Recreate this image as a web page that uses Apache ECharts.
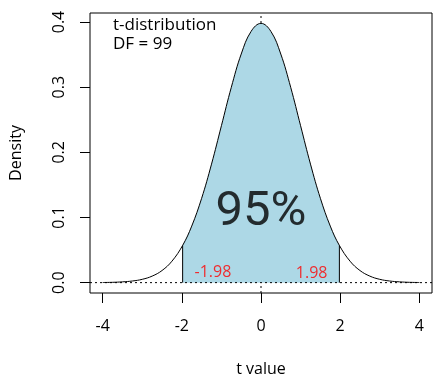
<!DOCTYPE html>
<html>
<head>
<meta charset="utf-8">
<script src="https://cdn.jsdelivr.net/npm/echarts@6/dist/echarts.min.js"></script>
<style>
  html, body { margin: 0; padding: 0; background: #fff; }
  #main { width: 433px; height: 374px; }
</style>
</head>
<body>
<div id="main"></div>
<script type="text/javascript">
// values (t distribution, df = 99)
var tValues = [-4, -3.75, -3.5, -3.25, -3, -2.75, -2.5, -2.25, -1.98, -1.75, -1.5, -1.25, -1, -0.75, -0.5, -0.25,
	0, 0.25, 0.5, 0.75, 1, 1.25, 1.5, 1.75, 1.98, 2.25, 2.5, 2.75, 3, 3.25, 3.5, 3.75, 4];
var density = [0.0002, 0.0005, 0.0012, 0.0025, 0.0051, 0.0100, 0.0186, 0.0329, 0.0571, 0.0868, 0.1294, 0.1819, 0.2408, 0.2998, 0.3508, 0.3856,
	0.3979, 0.3856, 0.3508, 0.2998, 0.2408, 0.1819, 0.1294, 0.0868, 0.0571, 0.0329, 0.0186, 0.0100, 0.0051, 0.0025, 0.0012, 0.0005, 0.0002];
var critical = [-1.98, 1.98];
var xTicks = [-4, -2, 0, 2, 4];
var yTicks = [0, 0.1, 0.2, 0.3, 0.4];
var xRange = [-4.32, 4.32];
var yRange = [-0.0159, 0.4138];

var font = 'Open Sans';
var curve = tValues.map(function(x, i){ return [x, density[i]]; });
var shade = curve.filter(function(p){ return p[0] >= critical[0] && p[0] <= critical[1]; });

var series = [
	{
		type: 'line', z: 1, silent: true, symbol: 'none',
		data: [[0, yRange[0]], [0, yRange[1]]],
		lineStyle: { color: '#000', width: 1, type: [2, 3] }
	},
	{
		type: 'line', z: 2, silent: true, symbol: 'none', smooth: 0.4,
		data: shade,
		lineStyle: { width: 0 },
		areaStyle: { color: '#ADD8E6', opacity: 1 }
	},
	{
		type: 'line', z: 3, silent: true, symbol: 'none',
		data: [[xRange[0], 0], [xRange[1], 0]],
		lineStyle: { color: '#000', width: 1, type: [2, 3] }
	},
	{
		type: 'line', z: 4, silent: true, symbol: 'none', smooth: 0.4,
		data: curve,
		lineStyle: { color: '#000', width: 1 }
	}
];
critical.forEach(function(c){
	var h = density[tValues.indexOf(c)];
	series.push({
		type: 'line', z: 4, silent: true, symbol: 'none',
		data: [[c, 0], [c, h]],
		lineStyle: { color: '#000', width: 1 }
	});
});
// text notes
series.push({
	type: 'scatter', z: 5, silent: true, symbolSize: 0,
	data: [
		{ value: [0, 0.1066], label: { show: true, formatter: '95%', fontSize: 49, color: '#000', fontFamily: 'Roboto' } },
		{ value: [-1.215, 0.0155], label: { show: true, formatter: String(critical[0]), fontSize: 16, color: '#ff0000' } },
		{ value: [1.28, 0.0145], label: { show: true, formatter: String(critical[1]), fontSize: 16, color: '#ff0000' } }
	],
	label: { position: 'inside', fontFamily: font }
});

var myChart = echarts.init(document.getElementById('main'), null, { renderer: 'canvas' });
myChart.setOption({
	animation: false,
	backgroundColor: '#fff',
	textStyle: { fontFamily: font },
	grid: {
		left: 90, right: 1, top: 13, bottom: 81, outerBoundsMode: 'none', containLabel: false,
		show: true, borderColor: '#000', borderWidth: 1, backgroundColor: 'transparent'
	},
	xAxis: {
		type: 'value', min: xRange[0], max: xRange[1],
		name: 't value', nameLocation: 'middle', nameGap: 68,
		nameTextStyle: { fontSize: 16, color: '#000', fontFamily: font },
		axisLine: { show: false, onZero: false },
		splitLine: { show: false },
		axisTick: { show: true, customValues: xTicks, length: 10, lineStyle: { color: '#000' } },
		axisLabel: { customValues: xTicks, fontSize: 16, color: '#000', margin: 25, fontFamily: font }
	},
	yAxis: {
		type: 'value', min: yRange[0], max: yRange[1],
		name: 'Density', nameLocation: 'middle', nameGap: 66,
		nameTextStyle: { fontSize: 16, color: '#000', fontFamily: font },
		axisLine: { show: false, onZero: false },
		splitLine: { show: false },
		axisTick: { show: true, customValues: yTicks, length: 10, lineStyle: { color: '#000' } },
		axisLabel: { customValues: yTicks, fontSize: 16, color: '#000', margin: 23, rotate: 90, fontFamily: font,
			formatter: function(v){ return v.toFixed(1); } }
	},
	graphic: [
		{ type: 'text', left: 113, top: 17, style: { text: 't-distribution', fontSize: 17, fill: '#000', fontFamily: font } },
		{ type: 'text', left: 113, top: 36, style: { text: 'DF = 99', fontSize: 17, fill: '#000', fontFamily: font } }
	],
	series: series
});
</script>
</body>
</html>
